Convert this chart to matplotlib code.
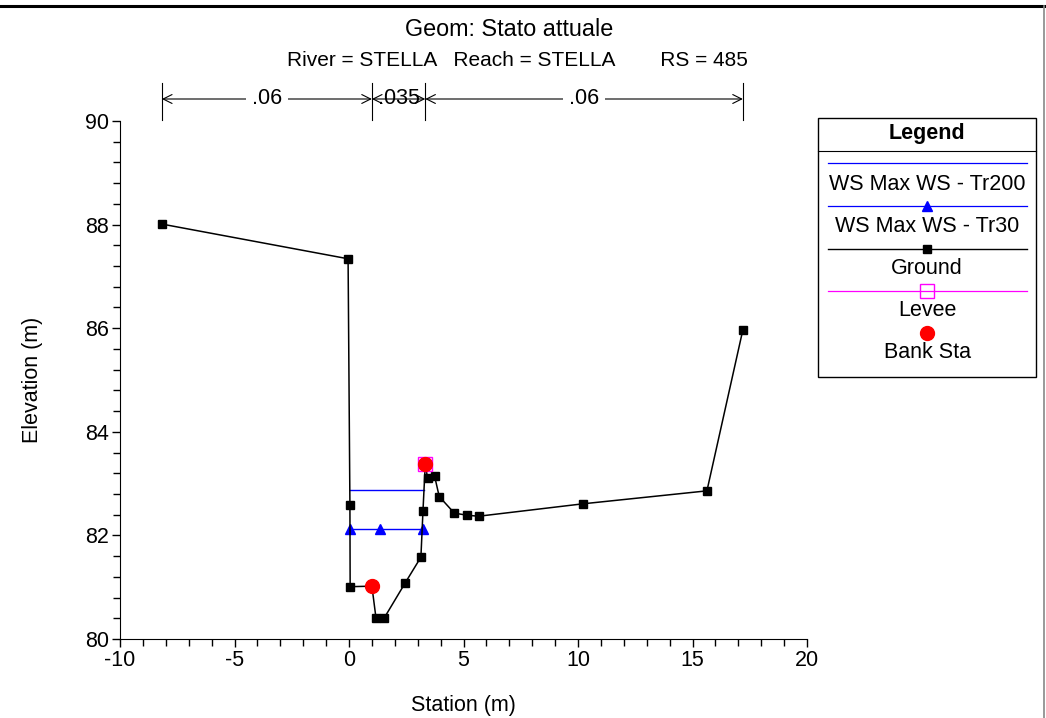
import matplotlib
matplotlib.use("Agg")
import matplotlib.pyplot as plt
from matplotlib.lines import Line2D
from matplotlib.patches import Rectangle
import numpy as np

plt.rcParams['font.family'] = ['Liberation Sans', 'DejaVu Sans']
plt.rcParams['axes.unicode_minus'] = False

# ---- data ----
ground_x = [-8.17, -0.04, 0.04, 0.05, 1.0, 1.18, 1.53, 2.45, 3.14, 3.23, 3.33, 3.43, 3.74, 3.94, 4.60, 5.15, 5.66, 10.22, 15.63, 17.20]
ground_y = [88.01, 87.34, 82.59, 81.01, 81.02, 80.40, 80.40, 81.08, 81.58, 82.47, 83.38, 83.11, 83.14, 82.75, 82.43, 82.39, 82.37, 82.61, 82.86, 85.97]
tr200_x = [0.04, 3.27]
tr200_y = [82.88, 82.88]
tr30_x = [0.04, 1.34, 3.21]
tr30_y = [82.12, 82.12, 82.12]
levee_x = [3.33]
levee_y = [83.38]
bank_x = [1.0, 3.33]
bank_y = [81.02, 83.38]
n_breaks = [-8.17, 1.0, 3.33, 17.20]
n_values = [".06", ".035", ".06"]

title = "Geom: Stato attuale"
subtitle = "River = STELLA   Reach = STELLA        RS = 485"

W, H = 1046, 718
fig = plt.figure(figsize=(W / 100, H / 100), dpi=100)
ax = fig.add_axes([120 / W, (H - 639) / H, (807 - 120) / W, (639 - 121) / H])

ax.plot(tr200_x, tr200_y, color='#0000ff', lw=1.0, zorder=2)
ax.plot(tr30_x, tr30_y, color='#0000ff', lw=1.0, marker='^', ms=6.5, zorder=2)
ax.plot(ground_x, ground_y, color='black', lw=1.1, marker='s', ms=6.2, zorder=3)
ax.plot(levee_x, levee_y, ls='none', marker='s', ms=10, mfc='none', mec='#ff00ff', mew=1.0, zorder=4)
ax.plot(bank_x, bank_y, ls='none', marker='o', ms=10, color='#ff0000', zorder=5)

ax.set_xlim(-10, 20)
ax.set_ylim(80, 90)
ax.set_xticks(np.arange(-10, 21, 5))
ax.set_xticks(np.arange(-10, 21, 1), minor=True)
ax.set_yticks(np.arange(80, 91, 2))
ax.set_yticks(np.arange(80, 90.01, 0.4), minor=True)
ax.spines['top'].set_visible(False)
ax.spines['right'].set_visible(False)
ax.tick_params(which='major', direction='out', length=6, width=1, labelsize=15.5, pad=2)
ax.tick_params(which='minor', direction='out', length=5, width=1)
ax.set_xlabel("Station (m)", fontsize=15.5, labelpad=17)
ax.set_ylabel("Elevation (m)", fontsize=15.5, labelpad=30)

# n-value bar on top
tr = ax.get_xaxis_transform()
y_arrow = (639 - 99) / 518
for xb in n_breaks:
    ax.plot([xb, xb], [1.002, (639 - 83) / 518], transform=tr, color='black', lw=0.8, clip_on=False)
for i, nv in enumerate(n_values):
    x0, x1 = n_breaks[i], n_breaks[i + 1]
    ax.annotate('', xy=(x0, y_arrow), xytext=(x1, y_arrow), xycoords=tr, textcoords=tr,
                arrowprops=dict(arrowstyle='<->', color='black', lw=0.8, mutation_scale=16, shrinkA=0, shrinkB=0))
    ax.text((x0 + x1) / 2, y_arrow, nv, transform=tr, ha='center', va='center', fontsize=15.5,
            bbox=dict(fc='white', ec='none', pad=4) if i != 1 else None, clip_on=False)

fig.text(509 / W, 1 - 30 / H, title, ha='center', va='center', fontsize=16.8)
fig.text(517 / W, 1 - 61 / H, subtitle, ha='center', va='center', fontsize=15)

# borders
fig.add_artist(Line2D([0, 1], [1 - 6 / H, 1 - 6 / H], color='black', lw=2.2))
fig.add_artist(Line2D([1044 / W, 1044 / W], [0, 1 - 6 / H], color='#888888', lw=1.2))

# legend box
def fx(px): return px / W
def fy(py): return 1 - py / H
fig.add_artist(Rectangle((fx(818), fy(377)), fx(1036) - fx(818), fy(118) - fy(377),
                         fill=False, ec='black', lw=1.0, transform=fig.transFigure))
fig.add_artist(Line2D([fx(818), fx(1036)], [fy(151), fy(151)], color='black', lw=0.8))
fig.text(fx(927), fy(134), "Legend", ha='center', va='center', fontsize=15.5, fontweight='bold')
cx = fx(927)
entries = [
    (163, 184, "WS Max WS - Tr200", dict(color='#0000ff', lw=0.9)),
    (206, 227, "WS Max WS - Tr30", dict(color='#0000ff', lw=0.9, marker='^', ms=6.5)),
    (249, 269, "Ground", dict(color='black', lw=1.0, marker='s', ms=6.2)),
    (291, 311, "Levee", dict(color='#ff00ff', lw=0.9, marker='s', ms=10, mfc='none', mec='#ff00ff')),
    (333, 353, "Bank Sta", None),
]
for ly, ty, label, style in entries:
    if style is not None:
        fig.add_artist(Line2D([fx(828), fx(1027)], [fy(ly), fy(ly)], **style, markevery=[]))
        if 'marker' in style:
            s2 = dict(style)
            fig.add_artist(Line2D([cx], [fy(ly)], ls='none', **{k: v for k, v in s2.items() if k != 'lw'}))
    else:
        fig.add_artist(Line2D([cx], [fy(ly)], ls='none', marker='o', ms=10, color='#ff0000'))
    fig.text(cx, fy(ty), label, ha='center', va='center', fontsize=15.5)

fig.savefig("out.png", dpi=100)
